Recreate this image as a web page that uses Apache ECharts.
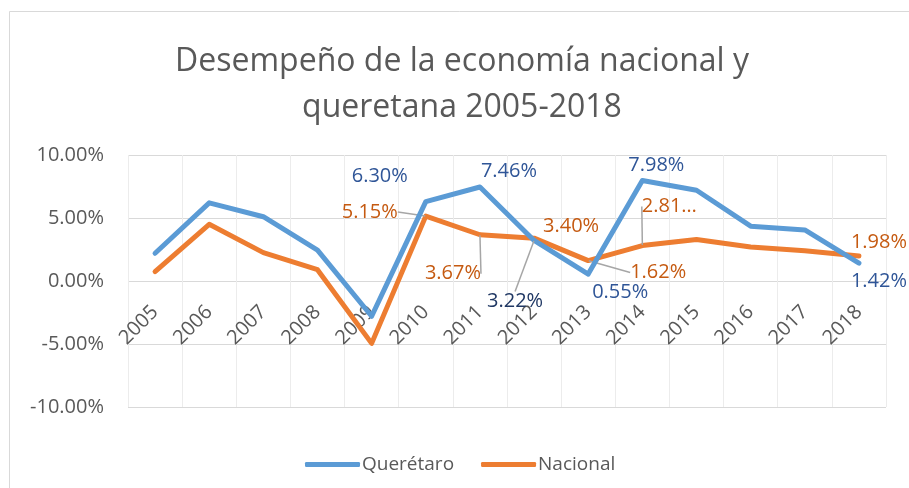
<!DOCTYPE html>
<html>
<head>
<meta charset="utf-8">
<script src="https://cdn.jsdelivr.net/npm/echarts@6/dist/echarts.min.js"></script>
<style>
  html, body { margin: 0; padding: 0; background: #fff; }
  #chart { width: 909px; height: 488px; }
</style>
</head>
<body>
<div id="chart"></div>
<script>
const years = ['2005', '2006', '2007', '2008', '2009', '2010', '2011', '2012', '2013', '2014', '2015', '2016', '2017', '2018'];
const queretaro = [2.2, 6.2, 5.1, 2.45, -2.8, 6.30, 7.46, 3.22, 0.55, 7.98, 7.2, 4.35, 4.05, 1.42];
const nacional = [0.74, 4.5, 2.25, 0.9, -4.95, 5.15, 3.67, 3.40, 1.62, 2.81, 3.3, 2.7, 2.4, 1.98];
const yTicks = [-10, -5, 0, 5, 10];

// which points carry a data label, and which label text Excel cut short
const labelledPoints = [5, 6, 7, 8, 9, 13];
const shortenedLabels = { 1: { 9: '2.81…' } };

const COLORS = {
  queretaro: '#5B9BD5',
  nacional: '#ED7D31',
  queretaroLabel: '#2F5597',
  nacionalLabel: '#C55A11',
  text: '#595959',
};

// label nudges in px from each point [dx, dy], and whether a leader line is drawn
const LABEL_LAYOUT = {
  0: { 5: [-46, -25], 6: [29, -16], 7: [-19, 61, true], 8: [32, 18], 9: [14, -15], 13: [20, 18] },
  1: { 5: [-56, -4, true], 6: [-27, 39, true], 7: [37, -12], 8: [70, 12, true], 9: [27, -39, true], 13: [20, -14] },
};

const FONT = '"Open Sans", "Noto Sans", sans-serif';

function buildData(values, seriesIndex, labelColor) {
  return values.map((v, i) => {
    if (!labelledPoints.includes(i)) return v;
    const lay = LABEL_LAYOUT[seriesIndex][i];
    const text = (shortenedLabels[seriesIndex] || {})[i] || v.toFixed(2) + '%';
    const item = {
      value: v,
      label: {
        show: true,
        position: 'inside',
        formatter: text,
        color: i === 7 && seriesIndex === 0 ? '#203864' : labelColor,
        fontSize: 20,
        fontFamily: FONT,
      },
    };
    if (lay[2]) item.labelLine = { show: true };
    return item;
  });
}

const chart = echarts.init(document.getElementById('chart'), null, { renderer: 'canvas' });

const option = {
  animation: false,
  backgroundColor: '#fff',
  graphic: [{
    type: 'rect',
    z: -1,
    shape: { x: 9.5, y: 11.5, width: 1000, height: 1000 },
    style: { fill: 'none', stroke: '#d9d9d9', lineWidth: 1 },
  }],
  title: {
    text: 'Desempeño de la economía nacional y\nqueretana 2005-2018',
    left: 457,
    textAlign: 'center',
    top: 34,
    textStyle: {
      color: COLORS.text,
      fontSize: 32,
      fontWeight: 'normal',
      fontFamily: FONT,
      lineHeight: 46,
    },
  },
  legend: {
    left: 300,
    top: 450,
    itemWidth: 55,
    itemHeight: 5,
    itemGap: 27,
    icon: 'roundRect',
    textStyle: { color: COLORS.text, fontSize: 19, fontFamily: FONT, padding: [0, 0, 0, -3] },
    data: ['Querétaro', 'Nacional'],
  },
  grid: { left: 128, right: 23, top: 155, bottom: 81 },
  xAxis: {
    type: 'category',
    data: years,
    boundaryGap: true,
    position: 'bottom',
    // sit the labels next to the 0% line, as Excel does
    offset: -126,
    axisLine: { show: false, onZero: false },
    axisTick: { show: false },
    splitLine: { show: true, lineStyle: { color: '#ececec', width: 1 } },
    axisLabel: {
      rotate: 45,
      margin: 28,
      color: COLORS.text,
      fontSize: 20,
      fontFamily: FONT,
      interval: 0,
    },
  },
  yAxis: {
    type: 'value',
    min: yTicks[0],
    max: yTicks[yTicks.length - 1],
    interval: 5,
    axisLine: { show: false },
    axisTick: { show: false },
    splitLine: { lineStyle: { color: '#d9d9d9', width: 1 } },
    axisLabel: {
      margin: 24,
      color: COLORS.text,
      fontSize: 20,
      fontFamily: FONT,
      formatter: (v) => v.toFixed(2) + '%',
    },
  },
  labelLayout: (params) => {
    const lay = (LABEL_LAYOUT[params.seriesIndex] || {})[params.dataIndex];
    if (!lay) return {};
    return { dx: lay[0], dy: lay[1] };
  },
  series: [
    {
      name: 'Querétaro',
      type: 'line',
      data: buildData(queretaro, 0, COLORS.queretaroLabel),
      symbol: 'circle',
      symbolSize: 1,
      showSymbol: true,
      itemStyle: { color: COLORS.queretaro },
      lineStyle: { width: 5, color: COLORS.queretaro, join: 'round', cap: 'round' },
      labelLine: { lineStyle: { color: '#a6a6a6', width: 1.5 } },
      emphasis: { disabled: true },
      z: 3,
    },
    {
      name: 'Nacional',
      type: 'line',
      data: buildData(nacional, 1, COLORS.nacionalLabel),
      symbol: 'circle',
      symbolSize: 1,
      showSymbol: true,
      itemStyle: { color: COLORS.nacional },
      lineStyle: { width: 5, color: COLORS.nacional, join: 'round', cap: 'round' },
      labelLine: { lineStyle: { color: '#a6a6a6', width: 1.5 } },
      emphasis: { disabled: true },
      z: 2,
    },
  ],
};

chart.setOption(option);
</script>
</body>
</html>
